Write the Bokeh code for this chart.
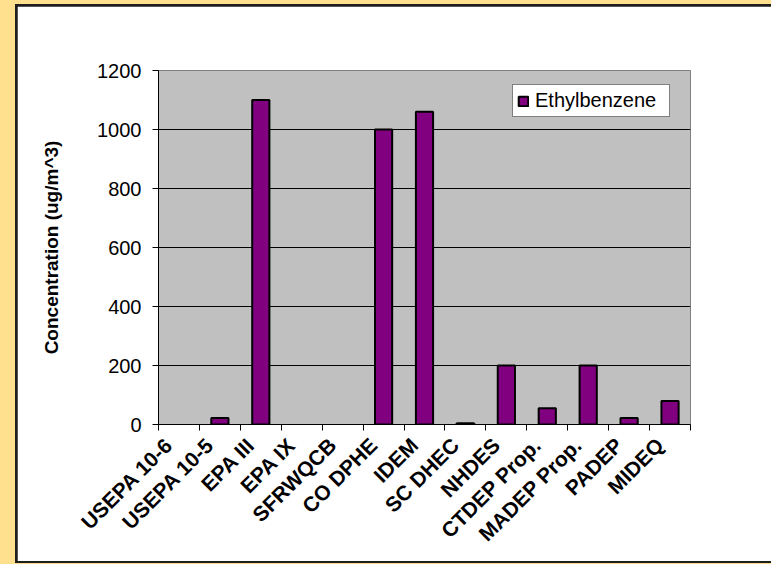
import math

from bokeh.embed import file_html
from bokeh.layouts import column
from bokeh.models import ColumnDataSource, FixedTicker, Range1d
from bokeh.plotting import figure
from bokeh.resources import INLINE

# Agencies / guideline sources on the x axis
agencies = ["USEPA 10-6", "USEPA 10-5", "EPA III", "EPA IX", "SFRWQCB",
            "CO DPHE", "IDEM", "SC DHEC", "NHDES", "CTDEP Prop.",
            "MADEP Prop.", "PADEP", "MIDEQ"]
# Ethylbenzene screening concentrations (ug/m^3); NaN = no value given
ethylbenzene = [float("nan"), 22, 1100, float("nan"), float("nan"),
                1000, 1060, 4, 200, 55, 200, 22, 80]
y_ticks = [0, 200, 400, 600, 800, 1000, 1200]

FONT = "Liberation Sans"

centers = [i + 0.5 for i in range(len(agencies))]
# slanted labels hang so that their upper end sits just left of the bar
label_pos = [c - 0.25 for c in centers]
source = ColumnDataSource(data=dict(x=centers, top=ethylbenzene, name=agencies))

p = figure(width=754, height=555,
           x_range=Range1d(0, len(agencies)), y_range=Range1d(0, 1200),
           output_backend="svg", toolbar_location=None,
           background_fill_color="#C0C0C0", border_fill_color="white",
           min_border_left=141, min_border_right=81,
           min_border_top=64, min_border_bottom=137)
p.outline_line_color = "#808080"
p.outline_line_width = 1

p.vbar(x="x", top="top", width=0.42, source=source,
       fill_color="#800080", line_color="black", line_width=2,
       legend_label="Ethylbenzene")

# x axis: labels under the categories, tick marks between categories
xa = p.xaxis[0]
xa.ticker = FixedTicker(ticks=label_pos, minor_ticks=list(range(len(agencies) + 1)))
xa.major_label_overrides = {c: n for c, n in zip(label_pos, agencies)}
xa.major_tick_line_color = None
xa.minor_tick_in = 0
xa.minor_tick_out = 6
xa.minor_tick_line_color = "black"
xa.axis_line_color = "black"
xa.major_label_orientation = math.pi / 4
xa.major_label_text_font = FONT
xa.major_label_text_font_style = "bold"
xa.major_label_text_font_size = "21px"
xa.major_label_text_color = "black"
xa.major_label_standoff = 11

# y axis
ya = p.yaxis[0]
ya.ticker = FixedTicker(ticks=y_ticks)
ya.major_tick_in = 0
ya.major_tick_out = 6
ya.minor_tick_line_color = None
ya.axis_line_color = "black"
ya.major_label_text_font = FONT
ya.major_label_text_font_size = "20px"
ya.major_label_text_color = "black"
ya.major_label_standoff = 11
ya.axis_label = "Concentration (ug/m^3)"
ya.axis_label_text_font = FONT
ya.axis_label_text_font_style = "bold"
ya.axis_label_text_font_size = "19px"
ya.axis_label_text_color = "black"
ya.axis_label_standoff = 32

p.xgrid.visible = False
p.ygrid.ticker = FixedTicker(ticks=y_ticks[1:-1])
p.ygrid.grid_line_color = "black"
p.ygrid.grid_line_width = 1

lg = p.legend[0]
lg.location = (354, 307)
lg.padding = 4
lg.spacing = 0
lg.glyph_width = 12
lg.glyph_height = 12
lg.label_standoff = 6
lg.label_height = 20
lg.label_width = 130
lg.label_text_font = FONT
lg.label_text_font_size = "20px"
lg.label_text_color = "black"
lg.border_line_color = "black"
lg.border_line_width = 1
lg.background_fill_color = "white"
lg.background_fill_alpha = 1.0

# dark frame around the white chart panel, on a pale yellow page
panel = column(p, styles={"background-color": "#1e1e1e"})
p.margin = (2, 0, 2, 2)
panel.margin = (4, 0, 0, 15)
page = column(panel, width=771, height=564,
              styles={"background-color": "#FFE08F", "overflow": "hidden"})

open("out.html", "w").write(file_html(page, INLINE))
